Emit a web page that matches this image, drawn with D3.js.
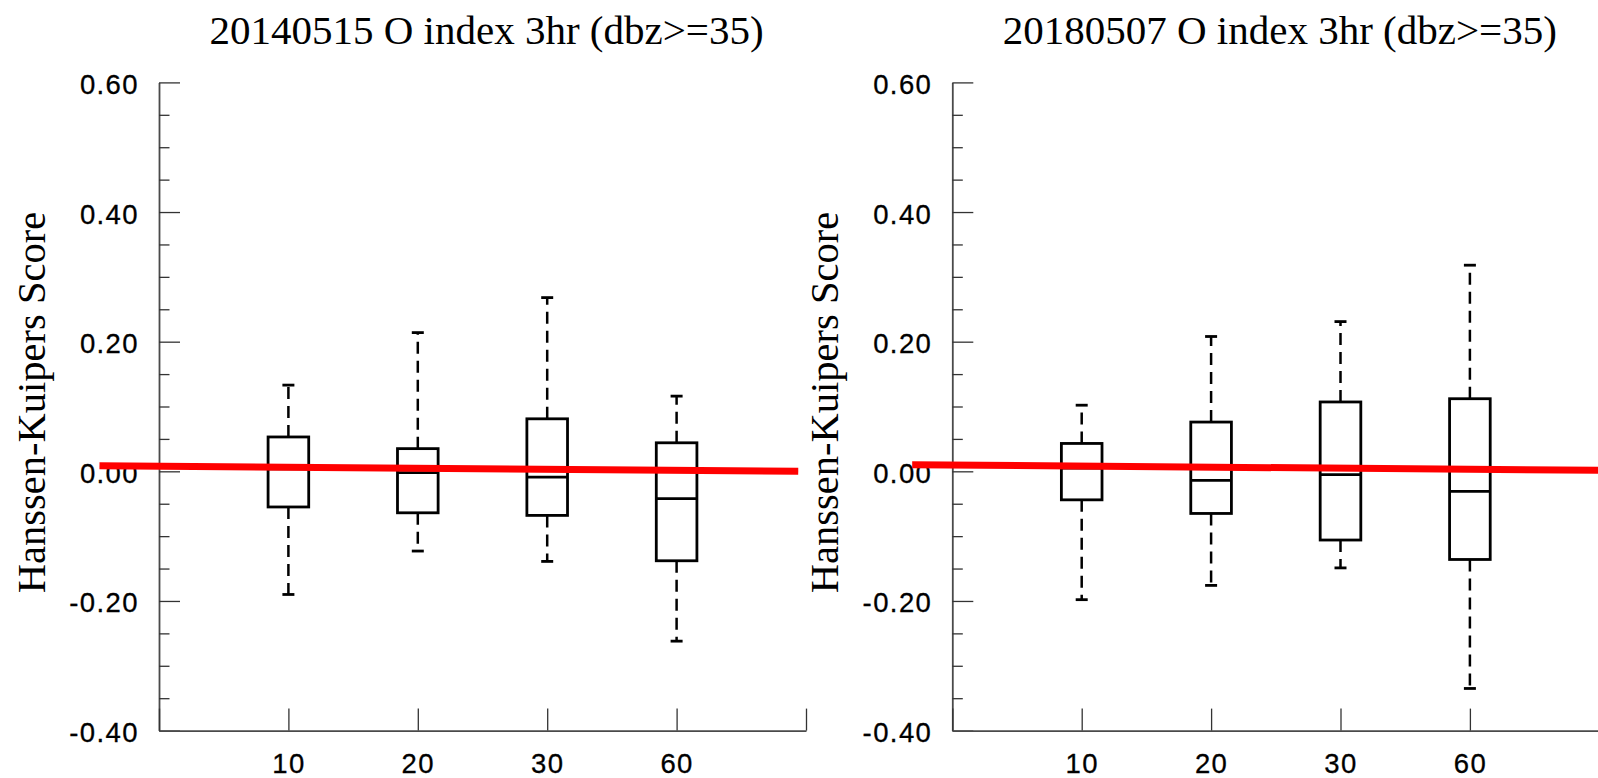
<!DOCTYPE html>
<html>
<head>
<meta charset="utf-8">
<script src="https://cdn.jsdelivr.net/npm/d3@7"></script>
<style>
  body { margin: 0; background: #fff; }
  svg { display: block; }
</style>
</head>
<body>
<svg id="chart" width="1598" height="778"></svg>
<script>
// Lead-time categories along the x axis (placed at positions 1..4)
const categories = ["10", "20", "30", "60"];
const categoryPositions = [1, 2, 3, 4];

const panelTitles = [
  "20140515 O index 3hr (dbz>=35)",
  "20180507 O index 3hr (dbz>=35)"
];
const yLabel = "Hanssen-Kuipers Score";

const yMajorTicks = [-0.4, -0.2, 0.0, 0.2, 0.4, 0.6];
const yMajorLabels = ["-0.40", "-0.20", "0.00", "0.20", "0.40", "0.60"];
const yMinorTicks = [-0.35, -0.3, -0.25, -0.15, -0.1, -0.05,
                     0.05, 0.1, 0.15, 0.25, 0.3, 0.35, 0.45, 0.5, 0.55];

// Box statistics per category: [whisker low, Q1, median, Q3, whisker high]
const boxes2014 = [
  [-0.190, -0.055,  0.004, 0.053, 0.133],
  [-0.123, -0.064, -0.002, 0.035, 0.214],
  [-0.139, -0.068, -0.009, 0.081, 0.268],
  [-0.262, -0.138, -0.042, 0.044, 0.116]
];
const boxes2018 = [
  [-0.198, -0.044,  0.005, 0.043, 0.102],
  [-0.176, -0.065, -0.014, 0.076, 0.208],
  [-0.149, -0.106, -0.005, 0.107, 0.231],
  [-0.335, -0.136, -0.031, 0.112, 0.318]
];

// Red reference line endpoints: [x position, score]
const refLine2014 = [[-0.46, 0.0085], [4.94, 0.0]];
const refLine2018 = [[-0.31, 0.0103], [5.0, 0.0015]];

const panels = [
  { title: panelTitles[0], boxes: boxes2014, ref: refLine2014, left: 159 },
  { title: panelTitles[1], boxes: boxes2018, ref: refLine2018, left: 952.3 }
];

const svg = d3.select("#chart");
const plotW = 647, plotTop = 82.4, plotBottom = 730.6;
const boxHalf = 0.157;   // half box width in x units
const capHalf = 6;       // half whisker-cap width in px
const tickFont = "'Liberation Sans', Arial, sans-serif";
const serifFont = "'Liberation Serif', 'Times New Roman', serif";

const y = d3.scaleLinear().domain([-0.4, 0.6]).range([plotBottom, plotTop]);

function styleTickText(sel) {
  sel.style("font-family", tickFont)
    .style("font-size", "27.5px")
    .style("letter-spacing", "1.4px")
    .attr("fill", "#000")
    .attr("stroke", "#000")
    .attr("stroke-width", 0.3);
}

panels.forEach(p => {
  const g = svg.append("g");
  const x = d3.scaleLinear().domain([0, 5]).range([p.left, p.left + plotW]);

  // Title
  g.append("text")
    .attr("x", p.left + plotW / 2 + 4)
    .attr("y", 44)
    .attr("text-anchor", "middle")
    .style("font-family", serifFont)
    .style("font-size", "41px")
    .attr("fill", "#000")
    .text(p.title);

  // Y axis label
  g.append("text")
    .attr("transform", `translate(${p.left - 114.5},402.5) rotate(-90)`)
    .attr("text-anchor", "middle")
    .style("font-family", serifFont)
    .style("font-size", "40.5px")
    .attr("fill", "#000")
    .text(yLabel);

  // Y axis: major ticks with labels, minor ticks inward
  const yAxis = g.append("g")
    .attr("transform", `translate(${p.left},0)`)
    .call(d3.axisLeft(y)
      .tickValues(yMajorTicks)
      .tickFormat((d, i) => yMajorLabels[i])
      .tickSizeInner(-21)
      .tickSizeOuter(0)
      .tickPadding(20));
  yAxis.selectAll("text").attr("dy", "0.40em").call(styleTickText);

  const yMinor = g.append("g")
    .attr("transform", `translate(${p.left},0)`)
    .call(d3.axisLeft(y)
      .tickValues(yMinorTicks)
      .tickFormat("")
      .tickSizeInner(-10.5)
      .tickSizeOuter(0));
  yMinor.select(".domain").remove();

  // X axis with category labels
  const xTicks = [0].concat(categoryPositions, [5]);
  const xLabels = [""].concat(categories, [""]);
  const xAxis = g.append("g")
    .attr("transform", `translate(0,${plotBottom})`)
    .call(d3.axisBottom(x)
      .tickValues(xTicks)
      .tickFormat((d, i) => xLabels[i])
      .tickSizeInner(-22)
      .tickSizeOuter(0)
      .tickPadding(22.5));
  xAxis.selectAll("text").call(styleTickText);

  g.selectAll(".domain").attr("stroke", "#4a4a4a").attr("stroke-width", 1.8);
  g.selectAll(".tick line").attr("stroke", "#333").attr("stroke-width", 1.3);

  // Box plots
  const bx = g.selectAll("g.box")
    .data(p.boxes)
    .join("g")
    .attr("class", "box");

  // Whiskers (dashed)
  bx.append("line")
    .attr("x1", (d, i) => x(categoryPositions[i]))
    .attr("x2", (d, i) => x(categoryPositions[i]))
    .attr("y1", d => y(d[3]))
    .attr("y2", d => y(d[4]))
    .attr("stroke", "#000").attr("stroke-width", 2.5)
    .attr("stroke-dasharray", "12,7");
  bx.append("line")
    .attr("x1", (d, i) => x(categoryPositions[i]))
    .attr("x2", (d, i) => x(categoryPositions[i]))
    .attr("y1", d => y(d[1]))
    .attr("y2", d => y(d[0]))
    .attr("stroke", "#000").attr("stroke-width", 2.5)
    .attr("stroke-dasharray", "12,7");

  // Whisker caps
  [0, 4].forEach(k => {
    bx.append("line")
      .attr("x1", (d, i) => x(categoryPositions[i]) - capHalf)
      .attr("x2", (d, i) => x(categoryPositions[i]) + capHalf)
      .attr("y1", d => y(d[k]))
      .attr("y2", d => y(d[k]))
      .attr("stroke", "#000").attr("stroke-width", 2.8);
  });

  // Box body
  bx.append("rect")
    .attr("x", (d, i) => x(categoryPositions[i] - boxHalf))
    .attr("width", (d, i) => x(categoryPositions[i] + boxHalf) - x(categoryPositions[i] - boxHalf))
    .attr("y", d => y(d[3]))
    .attr("height", d => y(d[1]) - y(d[3]))
    .attr("fill", "none")
    .attr("stroke", "#000").attr("stroke-width", 2.8);

  // Median
  bx.append("line")
    .attr("x1", (d, i) => x(categoryPositions[i] - boxHalf))
    .attr("x2", (d, i) => x(categoryPositions[i] + boxHalf))
    .attr("y1", d => y(d[2]))
    .attr("y2", d => y(d[2]))
    .attr("stroke", "#000").attr("stroke-width", 2.8);

  // Red reference line, drawn on top
  g.append("path")
    .datum(p.ref)
    .attr("d", d3.line().x(d => x(d[0])).y(d => y(d[1])))
    .attr("fill", "none")
    .attr("stroke", "#ff0000")
    .attr("stroke-width", 7);
});
</script>
</body>
</html>
